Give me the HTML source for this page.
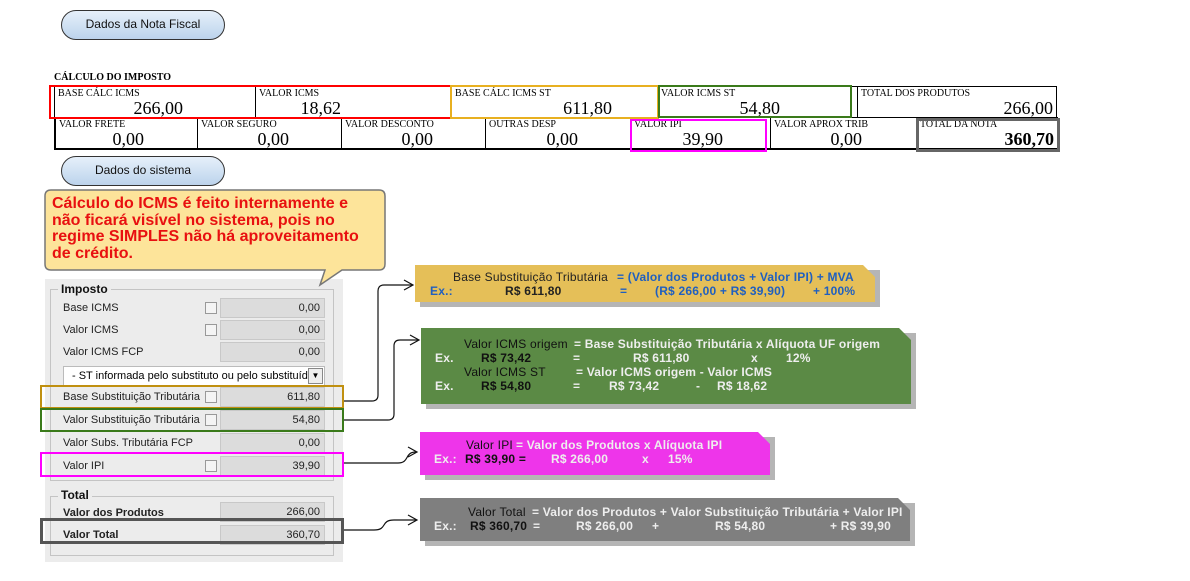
<!DOCTYPE html>
<html><head><meta charset="utf-8"><style>
*{margin:0;padding:0;box-sizing:border-box}
body{width:1190px;height:581px;background:#fff;position:relative;overflow:hidden;font-family:"Liberation Sans",sans-serif}
.a{position:absolute}
.btn{position:absolute;width:164px;height:30px;border:1.5px solid #333;border-radius:15px;background:linear-gradient(#e6f0fa,#bcd3ec);font-size:12px;text-align:center;line-height:27px;color:#111}
.c{position:absolute;border:1px solid #000;font-family:"Liberation Serif",serif;background:#fff}
.c .l{position:absolute;left:3px;top:2px;font-size:10px;line-height:10px}
.c .v{position:absolute;right:8px;bottom:0px;font-size:18px;line-height:18px}
.hl{position:absolute;border:2px solid}
.lab{position:absolute;font-size:11px;color:#222;left:63px}
.inp{position:absolute;left:220px;width:105px;height:20px;background:#dcdcdc;border:1px solid #c8c8c8;font-size:11px;text-align:right;padding-right:4px;line-height:19px;color:#222}
.cb{position:absolute;left:205px;width:12px;height:12px;border:1px solid #999;background:#f4f4f4}
.bx{position:absolute;font-size:12px;font-weight:bold;line-height:14px;white-space:pre;clip-path:polygon(0 0,calc(100% - 12px) 0,100% 12px,100% 100%,0 100%);}
.bx span{position:absolute;white-space:pre;letter-spacing:0.2px}
</style></head><body>
<div class="btn" style="left:61px;top:10px">Dados da Nota Fiscal</div>
<div class="a" style="left:54px;top:72px;font-family:'Liberation Serif',serif;font-weight:bold;font-size:10px">CÁLCULO DO IMPOSTO</div>
<div class="c" style="left:54px;top:86px;width:202px;height:32px"><div class="l">BASE CÁLC ICMS</div><div class="v" style="right:72px">266,00</div></div>
<div class="c" style="left:255px;top:86px;width:197px;height:32px"><div class="l">VALOR ICMS</div><div class="v" style="right:110px">18,62</div></div>
<div class="c" style="left:451px;top:86px;width:207px;height:32px"><div class="l">BASE CÁLC ICMS ST</div><div class="v" style="right:45px">611,80</div></div>
<div class="c" style="left:657px;top:86px;width:201px;height:32px"><div class="l">VALOR ICMS ST</div><div class="v" style="right:77px">54,80</div></div>
<div class="c" style="left:857px;top:86px;width:200px;height:32px"><div class="l">TOTAL DOS PRODUTOS</div><div class="v" style="right:3px">266,00</div></div>
<div class="c" style="left:54px;top:117px;width:144px;height:33px;border-width:1px 1px 2px 2px"><div class="l">VALOR FRETE</div><div class="v" style="right:53px">0,00</div></div>
<div class="c" style="left:197px;top:117px;width:145px;height:33px;border-width:1px 1px 2px 1px"><div class="l">VALOR SEGURO</div><div class="v" style="right:52px">0,00</div></div>
<div class="c" style="left:341px;top:117px;width:145px;height:33px;border-width:1px 1px 2px 1px"><div class="l">VALOR DESCONTO</div><div class="v" style="right:52px">0,00</div></div>
<div class="c" style="left:485px;top:117px;width:146px;height:33px;border-width:1px 1px 2px 1px"><div class="l">OUTRAS DESP</div><div class="v" style="right:52px">0,00</div></div>
<div class="c" style="left:630px;top:117px;width:141px;height:33px;border-width:1px 1px 2px 1px"><div class="l">VALOR IPI</div><div class="v" style="right:47px">39,90</div></div>
<div class="c" style="left:770px;top:117px;width:147px;height:33px;border-width:1px 1px 2px 1px"><div class="l">VALOR APROX TRIB</div><div class="v" style="right:54px">0,00</div></div>
<div class="c" style="left:916px;top:117px;width:142px;height:33px;border-width:1px 1px 2px 1px"><div class="l">TOTAL DA NOTA</div><div class="v" style="right:3px;font-weight:bold">360,70</div></div>
<div class="hl" style="left:49px;top:85px;width:403px;height:34px;border-color:#f00"></div>
<div class="hl" style="left:450px;top:85px;width:209px;height:34px;border-color:#e8b020"></div>
<div class="hl" style="left:658px;top:85px;width:194px;height:33px;border-color:#3a7a1a"></div>
<div class="hl" style="left:630px;top:119px;width:137px;height:33px;border-color:#f0f"></div>
<div class="hl" style="left:916px;top:118px;width:144px;height:34px;border:3px solid #666"></div>

<div class="btn" style="left:61px;top:156px">Dados do sistema</div>

<div class="a" style="left:45px;top:279px;width:298px;height:283px;background:#ececec"></div>
<div class="a" style="left:50px;top:289px;width:284px;height:192px;border:1px solid #c4c4c4"></div>
<div class="a" style="left:58px;top:282px;background:#ececec;padding:0 3px;font-weight:bold;font-size:12px;color:#111">Imposto</div>
<div class="a" style="left:50px;top:496px;width:284px;height:60px;border:1px solid #c4c4c4"></div>
<div class="a" style="left:58px;top:488px;background:#ececec;padding:0 3px;font-weight:bold;font-size:12px;color:#111">Total</div>

<div class="lab" style="top:302px">Base ICMS</div><div class="cb" style="top:302px"></div><div class="inp" style="top:298px">0,00</div>
<div class="lab" style="top:324px">Valor ICMS</div><div class="cb" style="top:324px"></div><div class="inp" style="top:320px">0,00</div>
<div class="lab" style="top:346px">Valor ICMS FCP</div><div class="inp" style="top:342px">0,00</div>
<div class="a" style="left:63px;top:366px;width:262px;height:20px;background:#fff;border:1px solid #bbb;font-size:11px;line-height:18px;padding-left:8px;overflow:hidden;white-space:nowrap">- ST informada pelo substituto ou pelo substituído<div class="a" style="right:1px;top:1px;width:15px;height:16px;background:#eee;border:1px solid #888;font-size:8px;text-align:center;line-height:14px">▼</div></div>
<div class="lab" style="top:391px">Base Substituição Tributária</div><div class="cb" style="top:391px"></div><div class="inp" style="top:387px">611,80</div>
<div class="lab" style="top:414px">Valor Substituição Tributária</div><div class="cb" style="top:414px"></div><div class="inp" style="top:410px">54,80</div>
<div class="lab" style="top:437px">Valor Subs. Tributária FCP</div><div class="inp" style="top:433px">0,00</div>
<div class="lab" style="top:460px">Valor IPI</div><div class="cb" style="top:460px"></div><div class="inp" style="top:456px">39,90</div>
<div class="lab" style="top:507px;font-weight:bold">Valor dos Produtos</div><div class="inp" style="top:502px">266,00</div>
<div class="lab" style="top:529px;font-weight:bold">Valor Total</div><div class="inp" style="top:525px">360,70</div>

<div class="hl" style="left:40px;top:385px;width:304px;height:24px;border-color:#c09010"></div>
<div class="hl" style="left:40px;top:408px;width:304px;height:24px;border-color:#3a7a1a"></div>
<div class="hl" style="left:40px;top:452px;width:304px;height:25px;border-color:#f0f"></div>
<div class="hl" style="left:40px;top:518px;width:304px;height:26px;border:3px solid #555"></div>

<svg class="a" style="left:0;top:0" width="1190" height="581">
<path d="M51,190 H379 Q385,190 385,196 V264 Q385,270 379,270 H342 L320,285 L325,270 H51 Q45,270 45,264 V196 Q45,190 51,190 Z" fill="#fde49a" stroke="#777" stroke-width="1.5"/>
<g fill="none" stroke="#111" stroke-width="1.2">
<path d="M344,401 H372 Q378,401 378,395 V291 Q378,285 384,285 H412"/><path d="M404,280 L413,285 L404,290"/>
<path d="M344,420 H388 Q394,420 394,414 V346 Q394,340 400,340 H418"/><path d="M410,335 L419,340 L410,345"/>
<path d="M344,463 H398 C410,463 404,452 416,452"/><path d="M408,447 L417,452 L408,457"/>
<path d="M344,530 H374 C388,530 380,520 394,520 H416"/><path d="M408,515 L417,520 L408,525"/>
</g>
</svg>
<div class="a" style="left:52px;top:196px;font-size:16px;font-weight:bold;color:#e81010;line-height:16.5px;white-space:nowrap">Cálculo do ICMS é feito internamente e<br>não ficará visível no sistema, pois no<br>regime SIMPLES não há aproveitamento<br>de crédito.</div>

<div class="a" style="left:420px;top:270px;width:460px;height:37px;background:#b5b5b5"></div>
<div class="bx" style="left:415px;top:265px;width:460px;height:37px;background:#e5bf58">
<span style="left:38px;top:5px;color:#222;font-weight:normal">Base Substituição Tributária</span><span style="left:202px;top:5px;color:#1f5fc0">= (Valor dos Produtos + Valor IPI) + MVA</span>
<span style="left:15px;top:19px;color:#1f5fc0">Ex.:</span><span style="left:90px;top:19px;color:#222">R$ 611,80</span><span style="left:205px;top:19px;color:#1f5fc0">=</span><span style="left:240px;top:19px;color:#1f5fc0">(R$ 266,00 + R$ 39,90)</span><span style="left:398px;top:19px;color:#1f5fc0">+ 100%</span></div>

<div class="a" style="left:426px;top:333px;width:490px;height:76px;background:#b5b5b5"></div>
<div class="bx" style="left:421px;top:328px;width:490px;height:76px;background:#5b8a45;color:#eee">
<span style="left:43px;top:9px;color:#111;font-weight:normal">Valor ICMS origem</span><span style="left:153px;top:9px">= Base Substituição Tributária x Alíquota UF origem</span>
<span style="left:14px;top:23px">Ex.</span><span style="left:60px;top:23px;color:#111">R$ 73,42</span><span style="left:152px;top:23px">=</span><span style="left:212px;top:23px">R$ 611,80</span><span style="left:330px;top:23px">x</span><span style="left:365px;top:23px">12%</span>
<span style="left:43px;top:37px;color:#111;font-weight:normal">Valor ICMS ST</span><span style="left:155px;top:37px">= Valor ICMS origem - Valor ICMS</span>
<span style="left:14px;top:51px">Ex.</span><span style="left:60px;top:51px;color:#111">R$ 54,80</span><span style="left:152px;top:51px">=</span><span style="left:188px;top:51px">R$ 73,42</span><span style="left:275px;top:51px">-</span><span style="left:296px;top:51px">R$ 18,62</span></div>

<div class="a" style="left:425px;top:437px;width:350px;height:43px;background:#b5b5b5"></div>
<div class="bx" style="left:420px;top:432px;width:350px;height:43px;background:#ee35ea;color:#eee">
<span style="left:46px;top:6px;color:#111;font-weight:normal">Valor IPI</span><span style="left:96px;top:6px">= Valor dos Produtos x Alíquota IPI</span>
<span style="left:14px;top:20px">Ex.:</span><span style="left:45px;top:20px;color:#111">R$ 39,90 =</span><span style="left:131px;top:20px">R$ 266,00</span><span style="left:222px;top:20px">x</span><span style="left:248px;top:20px">15%</span></div>

<div class="a" style="left:425px;top:503px;width:490px;height:43px;background:#b5b5b5"></div>
<div class="bx" style="left:420px;top:498px;width:490px;height:43px;background:#7f7f7f;color:#eee">
<span style="left:48px;top:7px;color:#111;font-weight:normal">Valor Total</span><span style="left:112px;top:7px">= Valor dos Produtos + Valor Substituição Tributária + Valor IPI</span>
<span style="left:14px;top:21px">Ex.:</span><span style="left:50px;top:21px;color:#111">R$ 360,70</span><span style="left:113px;top:21px">=</span><span style="left:156px;top:21px">R$ 266,00</span><span style="left:232px;top:21px">+</span><span style="left:295px;top:21px">R$ 54,80</span><span style="left:410px;top:21px">+ R$ 39,90</span></div>
</body></html>
